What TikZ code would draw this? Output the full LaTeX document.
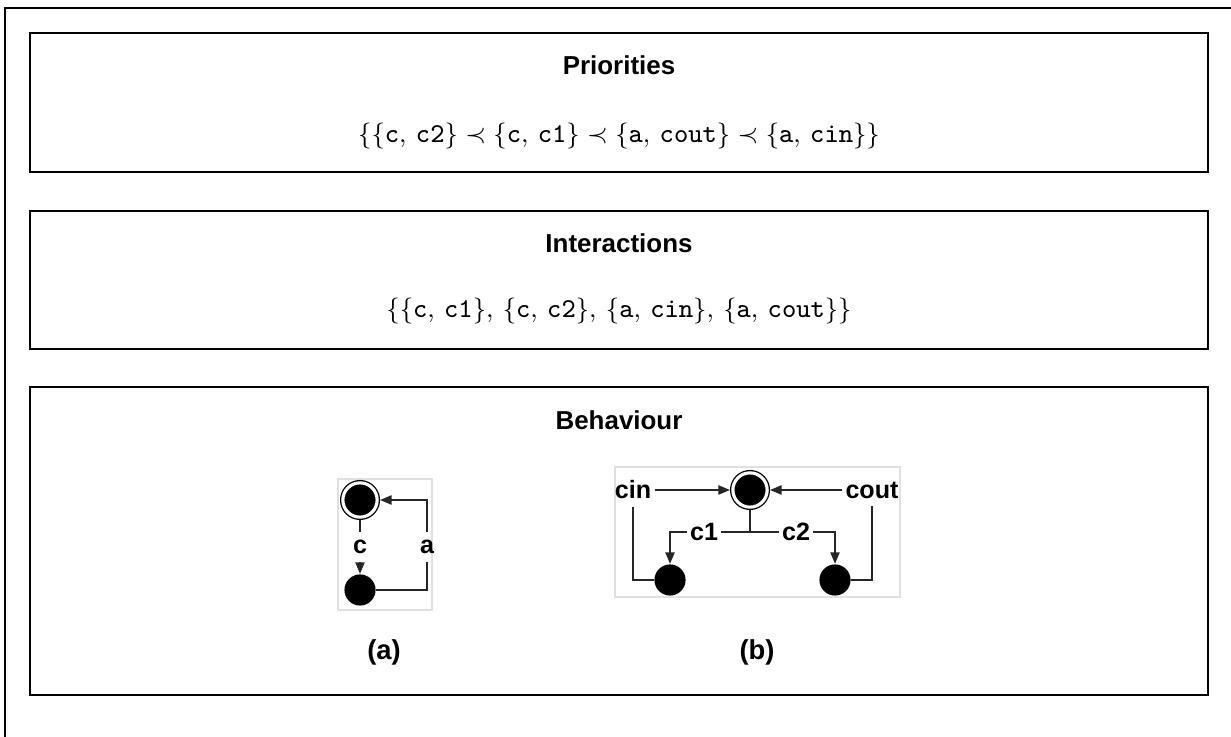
\documentclass[tikz,border=0pt]{standalone}
\usepackage{amsmath}
\usepackage{fontspec}
\setsansfont{Liberation Sans}
\usepackage{tikz}
\usetikzlibrary{arrows.meta}

\newcommand{\tsep}{{,}\ }

\begin{document}
\begin{tikzpicture}[x=0.012185cm, y=-0.012185cm,
  box/.style={line width=0.6pt},
  title/.style={font=\sffamily\bfseries\fontsize{9}{11}\selectfont},
  setf/.style={font=\fontsize{9.45}{11}\selectfont},
  lbl/.style={font=\sffamily\bfseries\fontsize{8.7}{10}\selectfont, inner xsep=1pt, inner ysep=2.5pt},
  st/.style={circle, fill=black, inner sep=0pt, minimum size=10.8pt},
  fin/.style={st, minimum size=11.9pt, draw=black, double=white, double distance=1.1pt, line width=0.45pt, outer sep=1pt},
  arr/.style={-{Triangle[length=4pt,width=3.2pt]}},
  conn/.style={line width=0.55pt, black!85},
  imgbox/.style={draw=black!12, line width=0.4pt},
  subcap/.style={font=\sffamily\bfseries\fontsize{9.5}{11}\selectfont}]
  \useasboundingbox (0,0) rectangle (1231,737);
  % frames
  \draw[box] (1231,8) -- (5,8) -- (5,737);
  \draw[box] (30,33) rectangle (1208,172);
  \draw[box] (30,211) rectangle (1208,349);
  \draw[box] (30,387) rectangle (1208,695);
  % priorities
  \node[title] (prio) at (619,65) {Priorities};
  \node[setf] (prioset) at (619,136) {$\{\{\texttt{c}\tsep\texttt{c2}\} \prec \{\texttt{c}\tsep\texttt{c1}\} \prec \{\texttt{a}\tsep\texttt{cout}\} \prec \{\texttt{a}\tsep\texttt{cin}\}\}$};
  % interactions
  \node[title] (inter) at (619,243) {Interactions};
  \node[setf] (interset) at (619,311) {$\{\{\texttt{c}\tsep\texttt{c1}\}\tsep\{\texttt{c}\tsep\texttt{c2}\}\tsep\{\texttt{a}\tsep\texttt{cin}\}\tsep\{\texttt{a}\tsep\texttt{cout}\}\}$};
  % behaviour
  \node[title] (behav) at (619,420) {Behaviour};
  % (a)
  \draw[imgbox] (338,479) rectangle (432,610);
  \node[fin] (a0) at (360,500) {};
  \node[st] (a1) at (360,590) {};
  \node[lbl] (ac) at (360,547) {c};
  \node[lbl] (aa) at (427,547) {a};
  \draw[conn] (a0) -- (ac);
  \draw[conn,arr] (ac) -- (a1);
  \draw[conn] (a1) -| (aa);
  \draw[conn,arr] (aa) |- (a0);
  \node[subcap] (capa) at (384,652) {(a)};
  % (b)
  \draw[imgbox] (615,467) rectangle (900,597);
  \node[fin] (b0) at (750,490) {};
  \node[st] (b1) at (670,580) {};
  \node[st] (b2) at (835,580) {};
  \node[lbl] (bcin) at (633,490) {cin};
  \node[lbl] (bcout) at (872,490) {cout};
  \node[lbl] (bc1) at (704,532) {c1};
  \node[lbl] (bc2) at (796,532) {c2};
  \coordinate (bj) at (750,532);
  \draw[conn,arr] (bcin) -- (b0);
  \draw[conn,arr] (bcout) -- (b0);
  \draw[conn] (b0) -- (bj);
  \draw[conn] (bj) -- (bc1);
  \draw[conn] (bj) -- (bc2);
  \draw[conn,arr] (bc1) -| (b1);
  \draw[conn,arr] (bc2) -| (b2);
  \draw[conn] (bcin) |- (b1);
  \draw[conn] (bcout) |- (b2);
  \node[subcap] (capb) at (757,652) {(b)};
\end{tikzpicture}
\end{document}
